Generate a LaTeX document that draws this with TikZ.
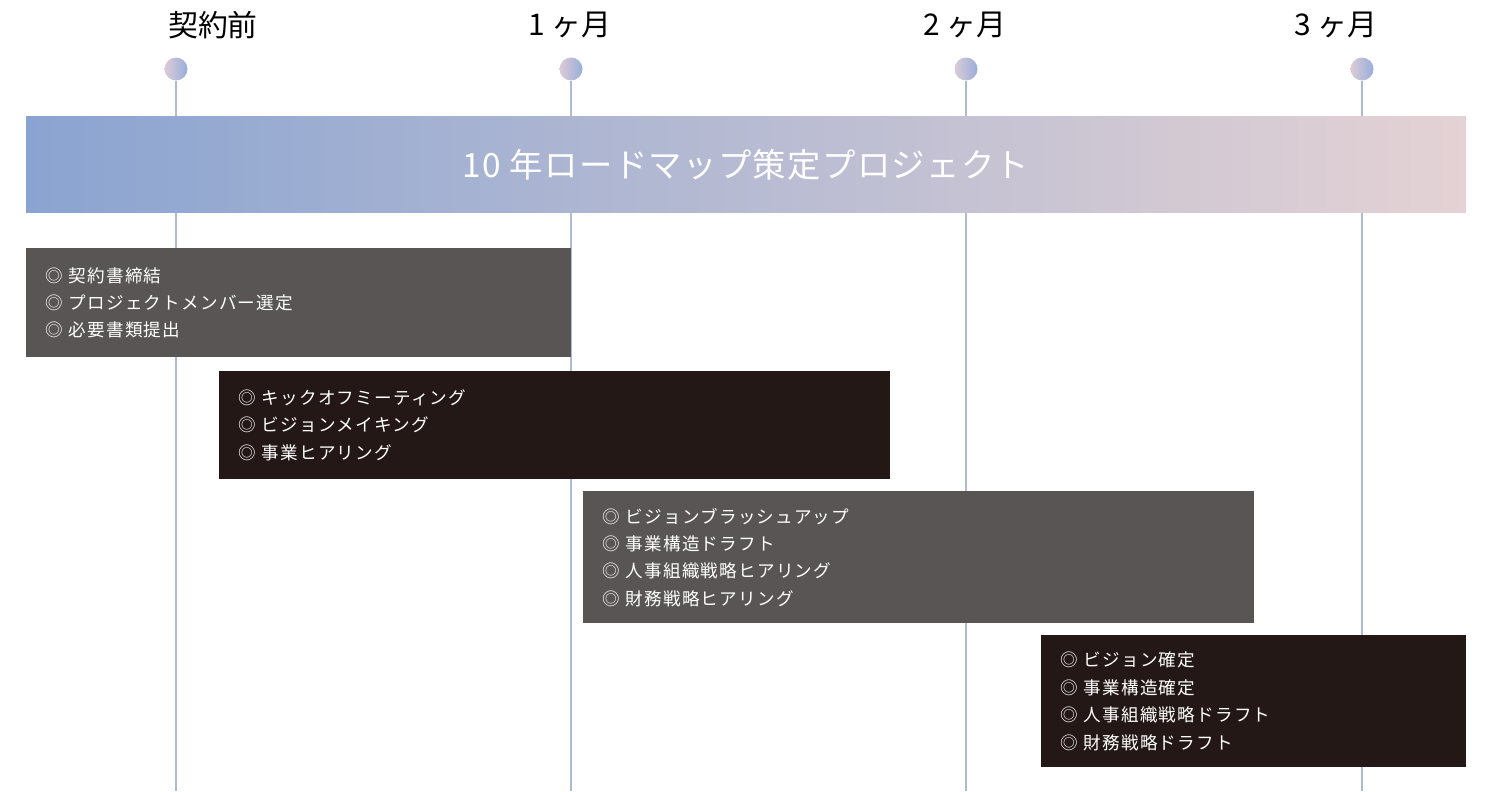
\documentclass[tikz,border=0pt]{standalone}
\usepackage{fontspec}
\newfontfamily\jpfont{Noto Sans CJK JP}
\newfontfamily\jpwidefont[LetterSpace=7]{Noto Sans CJK JP}
\newfontfamily\jptitlefont[LetterSpace=4]{Noto Sans CJK JP}
\usetikzlibrary{positioning}

\definecolor{barblue}{HTML}{8AA4D1}
\definecolor{barlav}{HTML}{B9B7D0}
\definecolor{barpink}{HTML}{E4D2D4}
\definecolor{dotpink}{HTML}{DCCBD6}
\definecolor{dotblue}{HTML}{97AEDA}
\definecolor{lineblue}{HTML}{AEBAD2}
\definecolor{boxgray}{HTML}{595555}
\definecolor{boxdark}{HTML}{231816}

\begin{document}
\begin{tikzpicture}
[x=0.02cm,y=-0.02cm,%
  every node/.style={font=\jpfont},%
  dot/.style={shape=circle,minimum size=0.46cm,inner sep=0pt,left color=dotpink,right color=dotblue},%
  month/.style={font=\jpfont\fontsize{17}{17}\selectfont,text=black},%
  grid/.style={draw=lineblue,line width=0.8pt},%
  banner/.style={minimum width=28.8cm,minimum height=1.94cm,inner sep=0pt,%
    left color=barblue,middle color=barlav,right color=barpink,text=white,%
    font=\jptitlefont\fontsize{19}{19}\selectfont},%
  task/.style={anchor=north west,inner xsep=0.38cm,inner ysep=0pt,align=left,%
    text=white,font=\jpwidefont\fontsize{10}{15.6}\selectfont},%
  taskgray/.style={task,fill=boxgray},%
  taskdark/.style={task,fill=boxdark}]
\useasboundingbox (0,0) rectangle (1500,791);
% time axis
\node[dot] (d0) at (176,69) {};
\node[dot] (d1) at (571,69) {};
\node[dot] (d2) at (966,69) {};
\node[dot] (d3) at (1362,69) {};
\node[month] (m0) at (213,25) {契約前};
\node[month] (m1) at (570,25) {1 ヶ月};
\node[month] (m2) at (965,25) {2 ヶ月};
\node[month] (m3) at (1336,25) {3 ヶ月};
\coordinate (e0) at (176,791);
\coordinate (e1) at (571,791);
\coordinate (e2) at (966,791);
\coordinate (e3) at (1362,791);
\draw[grid] (d0.south) -- (e0);
\draw[grid] (d1.south) -- (e1);
\draw[grid] (d2.south) -- (e2);
\draw[grid] (d3.south) -- (e3);
% project bar
\node[banner] (title) at (746,164.5) {10 年ロードマップ策定プロジェクト};
% tasks
\node[taskgray,text width=10.14cm,minimum height=2.18cm] (t1) at (26,248)
  {◎ 契約書締結\\◎ プロジェクトメンバー選定\\◎ 必要書類提出};
\node[taskdark,text width=12.66cm,minimum height=2.16cm] (t2) at (219,371)
  {◎ キックオフミーティング\\◎ ビジョンメイキング\\◎ 事業ヒアリング};
\node[taskgray,text width=12.66cm,minimum height=2.64cm] (t3) at (583,491)
  {◎ ビジョンブラッシュアップ\\◎ 事業構造ドラフト\\◎ 人事組織戦略ヒアリング\\◎ 財務戦略ヒアリング};
\node[taskdark,text width=7.74cm,minimum height=2.64cm] (t4) at (1041,635)
  {◎ ビジョン確定\\◎ 事業構造確定\\◎ 人事組織戦略ドラフト\\◎ 財務戦略ドラフト};
\end{tikzpicture}
\end{document}
